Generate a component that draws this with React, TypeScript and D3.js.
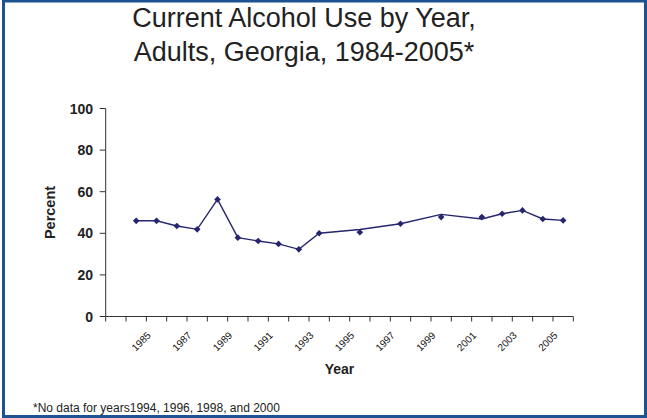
import React from "react";
import * as d3 from "d3";

const W = 647;
const H = 418;

const axisCategories = [
  1983, 1984, 1985, 1986, 1987, 1988, 1989, 1990, 1991, 1992, 1993, 1994,
  1995, 1996, 1997, 1998, 1999, 2000, 2001, 2002, 2003, 2004, 2005,
];
const dataYears = [
  1984, 1985, 1986, 1987, 1988, 1989, 1990, 1991, 1992, 1993, 1995, 1997,
  1999, 2001, 2002, 2003, 2004, 2005,
];
const markerValues = [
  46.0, 46.0, 43.5, 41.9, 56.3, 37.9, 36.3, 34.9, 32.3, 40.0, 40.5, 44.6,
  47.8, 47.8, 49.4, 51.0, 46.9, 46.2,
];
const lineValues = [
  46.0, 46.0, 43.5, 41.9, 56.3, 37.9, 36.3, 34.9, 32.3, 40.0, 41.8, 44.6,
  49.1, 46.9, 49.4, 51.0, 46.9, 46.2,
];
const xTickLabels = [
  "1985", "1987", "1989", "1991", "1993", "1995", "1997", "1999", "2001",
  "2003", "2005",
];
const yTicks = [0, 20, 40, 60, 80, 100];
const titleLines = ["Current Alcohol Use by Year,", "Adults, Georgia, 1984-2005*"];
const footnote = "*No data for years1994, 1996, 1998, and 2000";

export default function App() {
  const plotLeft = 105.7;
  const plotRight = 573.3;
  const plotTop = 108.5;
  const plotBottom = 316.5;

  const x = d3
    .scaleBand<number>()
    .domain(axisCategories)
    .range([plotLeft, plotRight])
    .padding(0);
  const cx = (yr: number) => (x(yr) as number) + x.bandwidth() / 2;
  const y = d3.scaleLinear().domain([0, 100]).range([plotBottom, plotTop]);

  const lineGen = d3
    .line<number>()
    .x((_, i) => cx(dataYears[i]))
    .y((v) => y(v));
  const marker = d3.symbol().type(d3.symbolSquare).size(22)();

  const tickXs = axisCategories.map((c) => x(c) as number).concat([plotRight]);

  const font = "'Liberation Sans', Arial, Helvetica, sans-serif";
  const navy = "#26266f";

  return (
    <svg
      width={W}
      height={H}
      style={{ position: "absolute", left: 0, top: 0, display: "block" }}
      fontFamily={font}
    >
      <rect x={0} y={0} width={W} height={H} fill="#ffffff" />
      <rect
        x={3.5}
        y={1}
        width={642}
        height={415.5}
        fill="none"
        stroke="#1d5390"
        strokeWidth={3}
      />
      {titleLines.map((t, i) => (
        <text
          key={t}
          x={304}
          y={27.3 + i * 33.8}
          textAnchor="middle"
          fontSize={27}
          fill="#222"
        >
          {t}
        </text>
      ))}

      {/* Y axis */}
      <line x1={plotLeft} x2={plotLeft} y1={plotTop} y2={plotBottom} stroke="#333" strokeWidth={1} />
      {yTicks.map((t) => (
        <g key={t}>
          <line x1={plotLeft - 6} x2={plotLeft} y1={y(t)} y2={y(t)} stroke="#333" strokeWidth={1} />
          <text
            x={93}
            y={y(t)}
            dy="0.36em"
            textAnchor="end"
            fontSize={14}
            fontWeight="bold"
            fill="#222"
          >
            {t}
          </text>
        </g>
      ))}
      <text
        transform={`translate(54.5,${(plotTop + plotBottom) / 2}) rotate(-90)`}
        textAnchor="middle"
        fontSize={14.5}
        fontWeight="bold"
        fill="#222"
      >
        Percent
      </text>

      {/* X axis */}
      <line x1={plotLeft} x2={plotRight} y1={plotBottom} y2={plotBottom} stroke="#333" strokeWidth={1} />
      {tickXs.map((tx, i) => (
        <line key={i} x1={tx} x2={tx} y1={plotBottom} y2={plotBottom + 5} stroke="#333" strokeWidth={1} />
      ))}
      {xTickLabels.map((lab) => (
        <text
          key={lab}
          transform={`translate(${cx(+lab) - 5},${336}) rotate(-45)`}
          textAnchor="end"
          fontSize={10}
          fill="#111"
        >
          {lab}
        </text>
      ))}
      <text
        x={(plotLeft + plotRight) / 2}
        y={373.5}
        textAnchor="middle"
        fontSize={14}
        fontWeight="bold"
        fill="#222"
      >
        Year
      </text>

      {/* Series */}
      <path d={lineGen(lineValues) || ""} fill="none" stroke={navy} strokeWidth={1.4} />
      {markerValues.map((v, i) => (
        <path
          key={i}
          d={marker || ""}
          transform={`translate(${cx(dataYears[i])},${y(v)}) rotate(45)`}
          fill={navy}
        />
      ))}

      <text x={33} y={412} fontSize={12} fill="#222">
        {footnote}
      </text>
    </svg>
  );
}
